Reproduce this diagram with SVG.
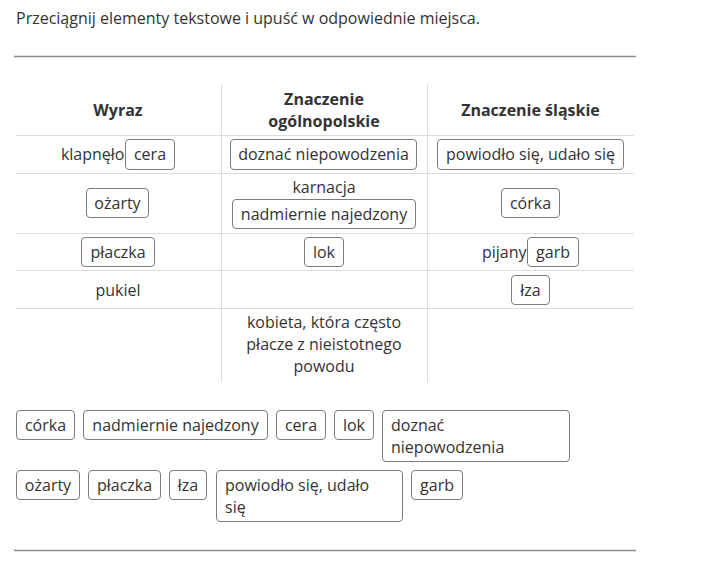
<svg xmlns="http://www.w3.org/2000/svg" width="705" height="565" viewBox="0 0 705 565">
<style>
text{font-family:"Open Sans","Noto Sans","DejaVu Sans",sans-serif;font-size:16px;fill:#333}
.h{font-weight:bold}
.c{text-anchor:middle}
.e{text-anchor:end}
.box{fill:#fff;stroke:#7d7d7d;stroke-width:1}
.grid{stroke:#dcdcdc;stroke-width:1;fill:none}
.rule{stroke:#8c8c8c;stroke-width:1.5;fill:none}
</style>
<rect width="705" height="565" fill="#fff"/>
<text x="16" y="24">Przeciągnij elementy tekstowe i upuść w odpowiednie miejsca.</text>
<line class="rule" x1="14" y1="56.5" x2="636" y2="56.5"/>
<g id="table-grid">
<line class="grid" x1="221.5" y1="85" x2="221.5" y2="382"/>
<line class="grid" x1="427.5" y1="85" x2="427.5" y2="382"/>
<line class="grid" x1="16" y1="135.5" x2="634" y2="135.5"/>
<line class="grid" x1="16" y1="173.5" x2="634" y2="173.5"/>
<line class="grid" x1="16" y1="233.5" x2="634" y2="233.5"/>
<line class="grid" x1="16" y1="270.5" x2="634" y2="270.5"/>
<line class="grid" x1="16" y1="308.5" x2="634" y2="308.5"/>
</g>
<g id="headers">
<text class="h c" x="118" y="116">Wyraz</text>
<text class="h c" x="324" y="105">Znaczenie</text>
<text class="h c" x="324" y="127">ogólnopolskie</text>
<text class="h c" x="530.5" y="115.5">Znaczenie śląskie</text>
</g>
<g id="cells">
<text class="e" x="124.5" y="160">klapnęło</text>
<text class="c" x="324" y="193">karnacja</text>
<text class="e" x="526.5" y="258">pijany</text>
<text class="c" x="118" y="296">pukiel</text>
<text class="c" x="324" y="328">kobieta, która często</text>
<text class="c" x="324" y="350">płacze z nieistotnego</text>
<text class="c" x="324" y="371.5">powodu</text>
</g>
<g id="placed-cera"><rect class="box" x="125.5" y="139.5" width="49" height="30" rx="3.5"/><text class="c" x="150" y="160">cera</text></g>
<g id="placed-doznac"><rect class="box" x="230.5" y="139.5" width="186" height="30" rx="3.5"/><text class="c" x="323.5" y="160">doznać niepowodzenia</text></g>
<g id="placed-powiodlo"><rect class="box" x="437.5" y="139.5" width="186" height="30" rx="3.5"/><text class="c" x="530.5" y="160">powiodło się, udało się</text></g>
<g id="placed-ozarty"><rect class="box" x="86.5" y="188.5" width="62" height="29" rx="3.5"/><text class="c" x="117.5" y="209">ożarty</text></g>
<g id="placed-nadmiernie"><rect class="box" x="232.5" y="199.5" width="183" height="29" rx="3.5"/><text class="c" x="324" y="220">nadmiernie najedzony</text></g>
<g id="placed-corka"><rect class="box" x="501.5" y="188.5" width="58" height="29" rx="3.5"/><text class="c" x="530.5" y="209">córka</text></g>
<g id="placed-placzka"><rect class="box" x="81.5" y="237.5" width="73" height="29" rx="3.5"/><text class="c" x="118" y="258">płaczka</text></g>
<g id="placed-lok"><rect class="box" x="304.5" y="237.5" width="39" height="29" rx="3.5"/><text class="c" x="324" y="258">lok</text></g>
<g id="placed-garb"><rect class="box" x="527.5" y="237.5" width="51" height="29" rx="3.5"/><text class="c" x="553" y="258">garb</text></g>
<g id="placed-lza"><rect class="box" x="511.5" y="275.5" width="38" height="29" rx="3.5"/><text class="c" x="530.5" y="296">łza</text></g>
<g id="pool-corka"><rect class="box" x="16.5" y="410.5" width="58" height="29" rx="3.5"/><text class="c" x="45.5" y="431">córka</text></g>
<g id="pool-nadmiernie"><rect class="box" x="83.5" y="410.5" width="184" height="29" rx="3.5"/><text class="c" x="175.5" y="431">nadmiernie najedzony</text></g>
<g id="pool-cera"><rect class="box" x="276.5" y="410.5" width="49" height="29" rx="3.5"/><text class="c" x="301" y="431">cera</text></g>
<g id="pool-lok"><rect class="box" x="334.5" y="410.5" width="39" height="29" rx="3.5"/><text class="c" x="354" y="431">lok</text></g>
<g id="pool-doznac"><rect class="box" x="382.5" y="410.5" width="187" height="51" rx="3.5"/><text x="391" y="431">doznać</text><text x="391" y="453">niepowodzenia</text></g>
<g id="pool-ozarty"><rect class="box" x="16.5" y="470.5" width="63" height="29" rx="3.5"/><text class="c" x="48" y="491">ożarty</text></g>
<g id="pool-placzka"><rect class="box" x="88.5" y="470.5" width="72" height="29" rx="3.5"/><text class="c" x="124.5" y="491">płaczka</text></g>
<g id="pool-lza"><rect class="box" x="169.5" y="470.5" width="37" height="29" rx="3.5"/><text class="c" x="188" y="491">łza</text></g>
<g id="pool-powiodlo"><rect class="box" x="216.5" y="470.5" width="186" height="51" rx="3.5"/><text x="225" y="491">powiodło się, udało</text><text x="225" y="513">się</text></g>
<g id="pool-garb"><rect class="box" x="411.5" y="470.5" width="51" height="29" rx="3.5"/><text class="c" x="437" y="491">garb</text></g>
<line class="rule" x1="14" y1="550.5" x2="636" y2="550.5"/>
</svg>
